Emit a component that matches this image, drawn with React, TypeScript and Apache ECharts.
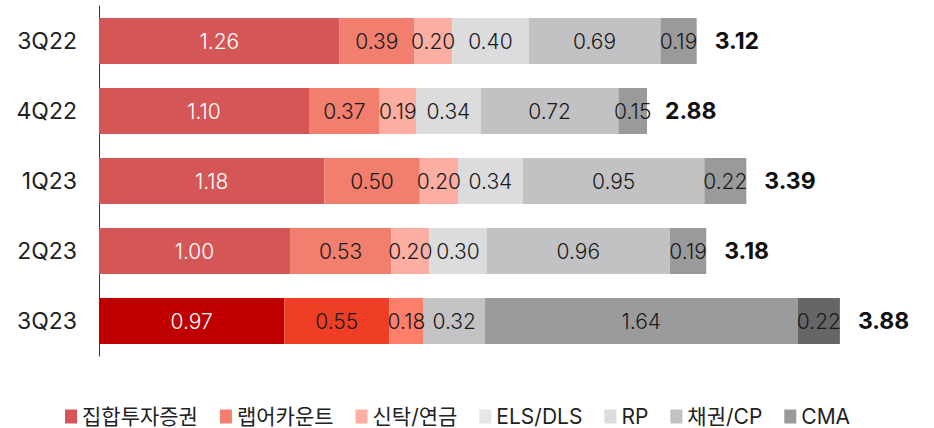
import React, { useEffect, useRef } from "react";
import * as echarts from "echarts";

const categories = ["3Q22", "4Q22", "1Q23", "2Q23", "3Q23"];
const seriesNames = ["집합투자증권", "랩어카운트", "신탁/연금", "ELS/DLS", "RP", "채권/CP", "CMA"];
const fundValues = [1.26, 1.10, 1.18, 1.00, 0.97];
const wrapValues = [0.39, 0.37, 0.50, 0.53, 0.55];
const trustValues = [0.20, 0.19, 0.20, 0.20, 0.18];
const elsValues = [0, 0, 0, 0, 0];
const rpValues = [0.40, 0.34, 0.34, 0.30, 0.32];
const bondValues = [0.69, 0.72, 0.95, 0.96, 1.64];
const cmaValues = [0.19, 0.15, 0.22, 0.19, 0.22];
const totals = [3.12, 2.88, 3.39, 3.18, 3.88];

const normalColors = ["#D55656", "#F27F6E", "#FCAEA2", "#E6E6E7", "#DCDCDE", "#C2C2C4", "#9A9A9C"];
const highlightColors = ["#C00000", "#F03E26", "#FF7F6B", "#D0D0D2", "#C3C3C5", "#9B9B9E", "#666669"];
const labelColors = ["#FFFFFF", "#1A1A1A", "#1A1A1A", "#1A1A1A", "#1A1A1A", "#1A1A1A", "#1A1A1A"];

const allValues = [fundValues, wrapValues, trustValues, elsValues, rpValues, bondValues, cmaValues];

export default function App() {
  const ref = useRef<HTMLDivElement>(null);
  useEffect(() => {
    if (!ref.current) return;
    const chart = echarts.init(ref.current, null, { renderer: "svg" });
    const font = "Inter, 'Noto Sans CJK KR', sans-serif";
    const series: any[] = allValues.map((vals, si) => ({
      name: seriesNames[si],
      type: "bar",
      stack: "total",
      barWidth: "66%",
      itemStyle: { color: normalColors[si] },
      label: {
        show: true,
        position: "inside",
        color: labelColors[si],
        fontSize: 21,
        fontWeight: 300,
        fontFamily: font,
        formatter: (p: any) => (p.value > 0 ? Number(p.value).toFixed(2) : ""),
      },
      data: vals.map((v, i) =>
        i === categories.length - 1 ? { value: v, itemStyle: { color: highlightColors[si] } } : v
      ),
    }));
    series.push({
      name: "합계",
      type: "bar",
      stack: "total",
      barWidth: "66%",
      itemStyle: { color: "transparent" },
      label: {
        show: true,
        position: "right",
        distance: 18,
        color: "#111",
        fontSize: 23,
        fontWeight: "bold",
        fontFamily: font,
        formatter: (p: any) => totals[p.dataIndex].toFixed(2),
      },
      data: totals.map(() => 0),
    });
    chart.setOption({
      animation: false,
      grid: { left: 99, right: 33, top: 6, bottom: 72 },
      legend: {
        data: seriesNames,
        left: 60,
        top: 401,
        itemWidth: 12,
        itemHeight: 14,
        itemGap: 22,
        icon: "rect",
        textStyle: { fontSize: 21, color: "#222", fontFamily: font, padding: [0, 0, 0, 0] },
      },
      xAxis: {
        type: "value",
        min: 0,
        max: 4.2,
        show: false,
      },
      yAxis: {
        type: "category",
        data: categories,
        inverse: true,
        axisLine: { show: true, lineStyle: { color: "#333", width: 1 } },
        axisTick: { show: false },
        axisLabel: { fontSize: 23, color: "#222", margin: 22, fontFamily: font },
      },
      series,
    });
    return () => chart.dispose();
  }, []);
  return (
    <div
      ref={ref}
      style={{ position: "fixed", left: 0, top: 0, width: 934, height: 428, background: "#fff" }}
    />
  );
}
